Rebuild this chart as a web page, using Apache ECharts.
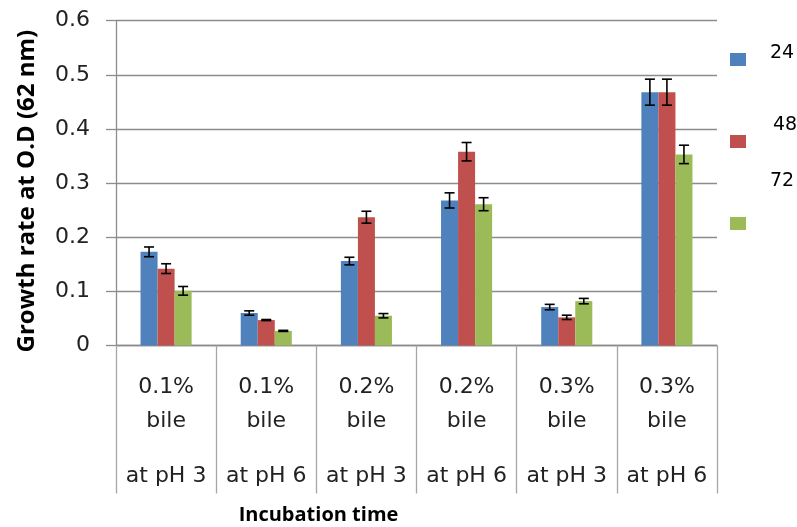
<!DOCTYPE html>
<html>
<head>
<meta charset="utf-8">
<script src="https://cdn.jsdelivr.net/npm/echarts@6/dist/echarts.min.js"></script>
<style>html,body{margin:0;padding:0;background:#fff;}#c{width:797px;height:527px;}</style>
</head>
<body>
<div id="c"></div>
<script>
var categories = ['0.1% bile|at pH 3', '0.1% bile|at pH 6', '0.2% bile|at pH 3', '0.2% bile|at pH 6', '0.3% bile|at pH 3', '0.3% bile|at pH 6'];
var seriesNames = ['24', '48', '72'];
var s24 = [0.173, 0.060, 0.156, 0.268, 0.071, 0.468];
var s48 = [0.142, 0.047, 0.237, 0.358, 0.052, 0.468];
var s72 = [0.101, 0.027, 0.055, 0.261, 0.082, 0.353];
var err24 = [0.009, 0.004, 0.007, 0.014, 0.005, 0.024];
var err48 = [0.009, 0.001, 0.011, 0.017, 0.004, 0.024];
var err72 = [0.008, 0.001, 0.004, 0.012, 0.005, 0.017];
var yTicks = [0, 0.1, 0.2, 0.3, 0.4, 0.5, 0.6];

var colors = ['#4F81BD', '#C0504D', '#9BBB59'];
var values = [s24, s48, s72];
var errors = [err24, err48, err72];
var CAT_GAP = 0.49;

var chart = echarts.init(document.getElementById('c'));

function errSeries(k) {
  var data = values[k].map(function (v, i) { return [i, v, errors[k][i]]; });
  return {
    type: 'custom',
    name: seriesNames[k] + ' err',
    z: 10,
    silent: true,
    data: data,
    encode: { x: 0, y: 1 },
    renderItem: function (params, api) {
      var idx = api.value(0), v = api.value(1), e = api.value(2);
      var band = api.size([1, 0])[0];
      var barW = band * (1 - CAT_GAP) / 3;
      var c = api.coord([idx, v]);
      var x = c[0] + (k - 1) * barW;
      var top = api.coord([idx, v + e])[1];
      var bot = api.coord([idx, v - e])[1];
      var hw = 5;
      var st = { stroke: '#000', lineWidth: 1.6 };
      return {
        type: 'group',
        children: [
          { type: 'line', shape: { x1: x, y1: top, x2: x, y2: bot }, style: st },
          { type: 'line', shape: { x1: x - hw, y1: top, x2: x + hw, y2: top }, style: st },
          { type: 'line', shape: { x1: x - hw, y1: bot, x2: x + hw, y2: bot }, style: st }
        ]
      };
    }
  };
}

var series = [];
for (var k = 0; k < 3; k++) {
  series.push({
    type: 'bar',
    name: seriesNames[k],
    data: values[k],
    itemStyle: { color: colors[k] },
    barGap: '0%',
    barCategoryGap: (CAT_GAP * 100) + '%'
  });
}
for (var k2 = 0; k2 < 3; k2++) series.push(errSeries(k2));

var labelFont = 'DejaVu Sans';
var option = {
  animation: false,
  backgroundColor: '#fff',
  grid: { left: 116, right: 80, top: 20.7, bottom: 181.5, containLabel: false, outerBoundsMode: 'none' },
  legend: {
    data: seriesNames,
    orient: 'vertical',
    left: 730,
    top: 53,
    padding: 0,
    icon: 'rect',
    itemWidth: 16,
    itemHeight: 13,
    itemGap: 69,
    formatter: function () { return ''; },
    textStyle: { fontSize: 1 }
  },
  graphic: [
    { type: 'text', x: 770, y: 53, style: { text: seriesNames[0], font: '19px "DejaVu Sans"', fill: '#000', verticalAlign: 'middle' } },
    { type: 'text', x: 773, y: 125, style: { text: seriesNames[1], font: '19px "DejaVu Sans"', fill: '#000', verticalAlign: 'middle' } },
    { type: 'text', x: 770, y: 181, style: { text: seriesNames[2], font: '19px "DejaVu Sans"', fill: '#000', verticalAlign: 'middle' } }
  ],
  xAxis: {
    type: 'category',
    data: categories,
    name: 'Incubation time',
    nameLocation: 'middle',
    nameGap: 160,
    nameTextStyle: { fontFamily: 'Open Sans', fontWeight: 'bold', fontSize: 20, color: '#000', padding: [0, 196, 0, 0] },
    axisLine: { lineStyle: { color: '#8c8c8c', width: 1.3 } },
    axisTick: { show: true, length: 148, alignWithLabel: false, lineStyle: { color: '#a6a6a6', width: 1.3 } },
    axisLabel: {
      margin: 25,
      interval: 0,
      formatter: function (v) {
        var p = v.split('|');
        var a = p[0].split(' ');
        return '{a|' + a[0] + '}\n{a|' + a[1] + '}\n{b|}\n{a|' + p[1] + '}';
      },
      rich: {
        a: { fontFamily: labelFont, fontSize: 22, lineHeight: 34, color: '#222', align: 'center' },
        b: { fontSize: 10, lineHeight: 21 }
      }
    },
    splitLine: { show: false }
  },
  yAxis: {
    type: 'value',
    min: 0,
    max: 0.6,
    interval: 0.1,
    name: 'Growth rate at O.D (62 nm)',
    nameLocation: 'middle',
    nameGap: 77,
    nameTextStyle: { fontFamily: 'Open Sans', fontWeight: 'bold', fontSize: 24, color: '#000', padding: [0, 16, 0, 0] },
    axisLine: { show: true, lineStyle: { color: '#8c8c8c', width: 1.3 } },
    axisTick: { show: true, length: 10, lineStyle: { color: '#8c8c8c', width: 1.3 } },
    axisLabel: {
      margin: 26,
      fontFamily: labelFont,
      fontSize: 22,
      color: '#222',
      formatter: function (v) {
        for (var i = 0; i < yTicks.length; i++) if (Math.abs(yTicks[i] - v) < 1e-9) return String(yTicks[i]);
        return '';
      }
    },
    splitLine: { show: true, lineStyle: { color: '#8c8c8c', width: 1.3 } }
  },
  series: series
};
chart.setOption(option);
</script>
</body>
</html>
